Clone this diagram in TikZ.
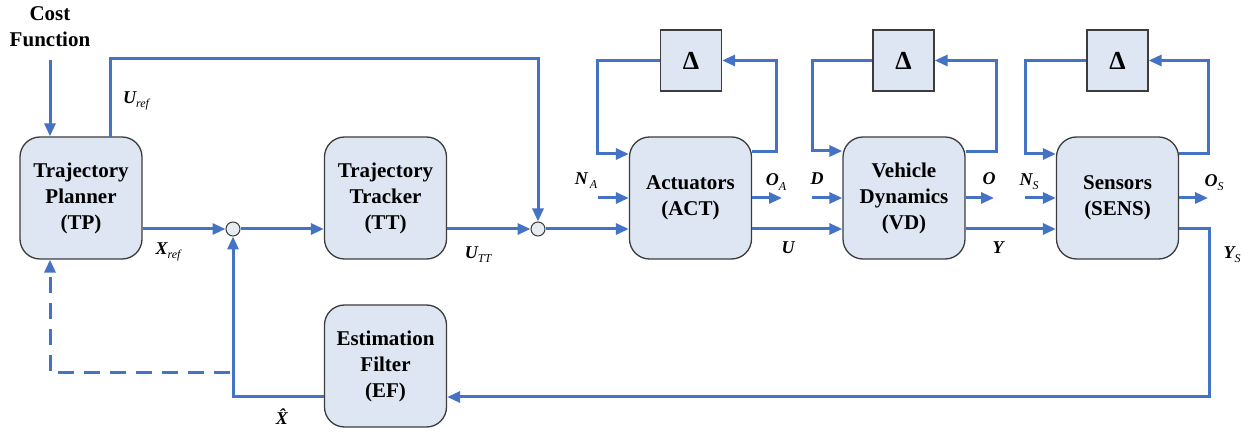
\documentclass[tikz,border=0pt]{standalone}
\usepackage{fontspec}
\setmainfont{Liberation Serif}[BoldFont={Liberation Serif Bold}, ItalicFont={Liberation Serif Italic}, BoldItalicFont={Liberation Serif Bold Italic}]
\usetikzlibrary{arrows.meta,calc}
\definecolor{lblue}{RGB}{68,114,196}
\definecolor{bfill}{RGB}{221,230,242}
\definecolor{bdraw}{RGB}{60,60,60}
\definecolor{cfill}{RGB}{232,236,240}
\newcommand{\sigl}[2]{{\bfseries\itshape #1}\raisebox{-0.5ex}{\fontsize{12}{12}\selectfont\itshape #2}}
\begin{document}
\begin{tikzpicture}[x=1pt,y=-1pt,
  blk/.style={draw=bdraw, line width=1.3pt, fill=bfill, rounded corners=20pt,
    minimum width=122pt, minimum height=122pt, align=center,
    font=\fontsize{21}{26}\selectfont\bfseries, inner sep=0pt},
  dbox/.style={draw=bdraw, line width=1.3pt, fill=bfill, minimum size=61pt,
    inner sep=0pt, font=\fontsize{26}{26}\selectfont\bfseries},
  sumc/.style={circle, draw=bdraw, line width=1pt, fill=cfill,
    minimum size=14pt, inner sep=0pt},
  arr/.style={draw=lblue, line width=3pt, -{Triangle[length=13pt,width=11pt]}},
  lbl/.style={inner sep=0pt, font=\fontsize{18}{18}\selectfont}]
\useasboundingbox (0,0) rectangle (1251,435);

% blocks
\node[blk] (TP) at (81,198) {Trajectory\\Planner\\(TP)};
\node[blk] (TT) at (385.5,198) {Trajectory\\Tracker\\(TT)};
\node[blk] (ACT) at (690.5,198) {Actuators\\(ACT)};
\node[blk] (VD) at (904,198) {Vehicle\\Dynamics\\(VD)};
\node[blk] (SENS) at (1117.5,198) {Sensors\\(SENS)};
\node[blk] (EF) at (385.5,366) {Estimation\\Filter\\(EF)};
\node[dbox] (D1) at (691,60.5) {Δ};
\node[dbox] (D2) at (903.5,60.5) {Δ};
\node[dbox] (D3) at (1117.5,60.5) {Δ};
\node[sumc] (c1) at (233,229) {};
\node[sumc] (c2) at (538,229) {};
\node[align=center, inner sep=0pt, font=\fontsize{21}{26}\selectfont\bfseries] (cf) at (50,27) {Cost\\Function};

% coordinates
\coordinate (cft) at (50,60);
\coordinate (ut) at (538,59);
\coordinate (ubase) at (110,137);
\coordinate (yb) at (1209,397);
\coordinate (dsh) at (230,373);
\coordinate (dc) at (50,373);
\coordinate (a1l) at (597,154);
\coordinate (a1r) at (776,152);
\coordinate (a2l) at (812,151);
\coordinate (a2r) at (996,152);
\coordinate (a3l) at (1025,154);
\coordinate (a3r) at (1208,154);
\coordinate (na) at (598,198);
\coordinate (oa) at (782,198);
\coordinate (dd) at (812,198);
\coordinate (oo) at (994,198);
\coordinate (ns) at (1025,198);
\coordinate (os) at (1208,198);

% connectors
\draw[arr] (cft) -- (cft |- TP.north);
\draw[arr] (ubase) |- (ut) -- (c2);
\draw[arr] (TP.east |- c1) -- (c1);
\draw[arr] (c1) -- (TT.west |- c1);
\draw[arr] (TT.east |- c2) -- (c2);
\draw[arr] (c2) -- (ACT.west |- c2);
\draw[arr] (ACT.east |- c2) -- (VD.west |- c2);
\draw[arr] (VD.east |- c2) -- (SENS.west |- c2);
\draw[arr] (SENS.east |- c2) -| (yb) -- (EF.east |- yb);
\draw[arr] (EF.west |- yb) -| (c1.south);
\draw[arr, dash pattern=on 16pt off 10pt] (dsh) -- (dc) -- (dc |- TP.south);

\draw[arr] (D1.west) -| (a1l) -- (a1l -| ACT.west);
\draw[arr] (a1r -| ACT.east) -- (a1r) |- (D1.east);
\draw[arr] (D2.west) -| (a2l) -- (a2l -| VD.west);
\draw[arr] (a2r -| VD.east) -- (a2r) |- (D2.east);
\draw[arr] (D3.west) -| (a3l) -- (a3l -| SENS.west);
\draw[arr] (a3r -| SENS.east) -- (a3r) |- (D3.east);

\draw[arr] (na) -- (ACT.west);
\draw[arr] (ACT.east) -- (oa);
\draw[arr] (dd) -- (VD.west);
\draw[arr] (VD.east) -- (oo);
\draw[arr] (ns) -- (SENS.west);
\draw[arr] (SENS.east) -- (os);

% labels
\node[lbl] (lur) at (136,101) {\sigl{U}{ref}};
\node[lbl] (lxr) at (168,252) {\sigl{X}{ref}};
\node[lbl] (lutt) at (478,255) {\sigl{U}{TT}};
\node[lbl] (lxh) at (282,417) {\bfseries\itshape \^{X}};
\node[lbl] (lna) at (586,181) {\sigl{N}{\,A}};
\node[lbl] (loa) at (776,182) {\sigl{O}{A}};
\node[lbl] (ld) at (817,181) {\sigl{D}{}};
\node[lbl] (lu) at (788,250) {\sigl{U}{}};
\node[lbl] (lo) at (989,181) {\sigl{O}{}};
\node[lbl] (lns) at (1029,182) {\sigl{N}{S}};
\node[lbl] (ly) at (998,250) {\sigl{Y}{}};
\node[lbl] (los) at (1214,183) {\sigl{O}{S}};
\node[lbl] (lys) at (1232,255) {\sigl{Y}{S}};
\end{tikzpicture}
\end{document}
